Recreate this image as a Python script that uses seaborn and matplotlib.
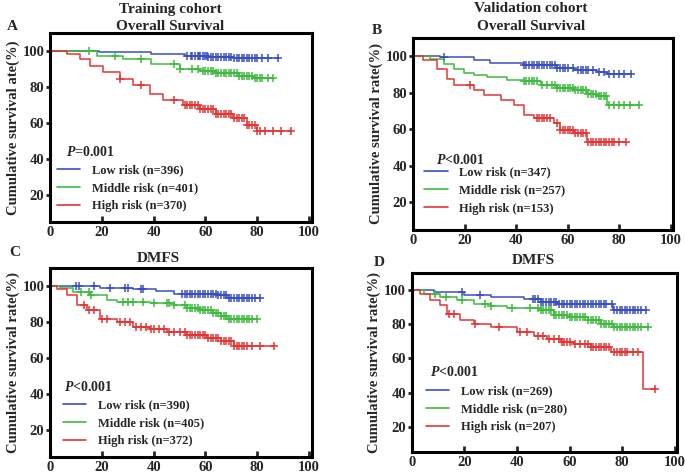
import numpy as np
import pandas as pd
import matplotlib
matplotlib.use('Agg')
import matplotlib.pyplot as plt
import seaborn as sns
from matplotlib.lines import Line2D

# =============================================================================
# Data (time in months, survival in %)
# =============================================================================

# Panel A - training cohort, overall survival
a_low_t = [0, 19, 39, 52, 61, 71, 88]
a_low_s = [100, 99.5, 98, 97, 96.7, 95.8, 95.8]
a_low_c = [53, 54.5, 55, 56, 57, 57.5, 58, 59, 60, 60.5, 61, 62, 63, 64, 65, 66,
           67, 68, 69, 70, 71, 72, 73, 74, 75, 76, 77, 78, 79, 80, 82, 84, 88]
a_mid_t = [0, 6.4, 18, 28, 39, 50, 58, 64, 73, 78.5, 86]
a_mid_s = [100, 100, 97.2, 95.4, 92.7, 90, 89, 87.7, 86.2, 85.1, 85.1]
a_mid_c = [15, 25, 35, 48, 50, 55, 57, 59, 60, 61, 62, 63, 64, 65, 66, 67, 68,
           69, 70, 71, 72, 73, 74, 75, 76, 77, 78, 79, 80, 81, 82, 84, 86]
a_high_t = [0, 6.4, 11.6, 15.4, 20.6, 27, 32, 38.6, 43.8, 51.5, 58, 64, 70.8, 76, 80, 93]
a_high_s = [100, 98, 95.4, 91.7, 88, 84.4, 81, 76, 72.5, 70, 67.9, 65, 62.7, 58.7, 55.4, 55.4]
a_high_c = [27, 35, 48, 52, 53, 54, 55, 56, 57, 58, 59, 60, 61, 62, 63, 64, 65, 66,
            67, 68, 69, 70, 71, 72, 73, 74, 75, 76, 77, 78, 79, 80, 81, 83, 86, 89, 93]

# Panel B - validation cohort, overall survival
b_low_t = [0, 10.6, 23.6, 30, 43, 56, 62.4, 71.5, 75.4, 84.5]
b_low_s = [100, 99.5, 97.8, 96.4, 95, 93.8, 92.7, 91.5, 90.5, 90.5]
b_low_c = [12, 43, 44, 45, 46, 47, 48, 49, 50, 51, 52, 53, 54, 55, 56, 57, 58, 59,
           60, 62, 64, 65, 66, 67, 68, 70, 72, 74, 76, 78, 80, 82, 84.5]
b_mid_t = [0, 6.7, 12, 15.8, 19.7, 23.6, 28.8, 36.5, 43, 49.5, 56, 62.4, 67.6, 71.5, 75.4, 87.7]
b_mid_s = [100, 98.7, 96, 93.3, 91, 89.6, 88.7, 87, 86.4, 84.2, 82.7, 81.5, 79.6, 78.4, 73.3, 73.3]
b_mid_c = [43, 44, 45, 46, 47, 48, 50, 52, 54, 55, 56, 57, 58, 59, 60, 61, 62, 63,
           64, 65, 66, 67, 68, 69, 70, 71, 72, 73, 74, 75, 76, 78, 80, 82, 84, 87.7]
b_high_t = [0, 4, 9.3, 13.2, 15.8, 21, 23.6, 27.5, 34, 39, 43, 47, 52, 54.7, 57, 62.4, 67.6, 82.5]
b_high_s = [100, 97.8, 93.3, 87.8, 84.5, 84.2, 81.5, 78.7, 76, 73.3, 67.8, 66.4, 66,
            63.3, 59.6, 57.8, 53.3, 53.3]
b_high_c = [22, 48, 49, 50, 51, 52, 53, 56, 57, 58, 59, 60, 61, 62, 63, 64, 65, 66,
            67, 68, 69, 70, 71, 72, 73, 74, 75, 76, 77, 78, 80, 82.5]

# Panel C - training cohort, DMFS
c_low_t = [0, 9, 19.4, 32, 41, 48, 64.5, 68.4, 81]
c_low_s = [100, 100, 99.1, 98.2, 97.4, 95.6, 94.7, 93.2, 93.2]
c_low_c = [10, 11, 17, 23, 29, 30, 35, 36, 51, 52, 53, 54, 55, 56, 57, 58, 59, 60,
           61, 62, 63, 64, 65, 66, 67, 68, 69, 70, 71, 72, 73, 74, 75, 76, 77, 78, 79, 81]
c_mid_t = [0, 3.9, 9, 15.5, 22, 26, 38.7, 47.7, 53, 58, 63, 66, 68.4, 80]
c_mid_s = [100, 99, 96.5, 94.7, 92, 91.2, 90.4, 89.5, 87.7, 86.8, 85, 83.3, 81.6, 81.6]
c_mid_c = [12, 15, 16, 28, 30, 32, 36, 40, 45, 46, 48, 52, 53, 54, 55, 56, 57, 58,
           59, 60, 61, 62, 63, 64, 65, 66, 67, 68, 69, 70, 71, 72, 73, 74, 75, 76, 77, 78, 80]
c_high_t = [0, 2.6, 6.5, 10.3, 14.2, 19.4, 25.8, 32, 38.7, 45, 53, 60.6, 66, 71, 86.5]
c_high_s = [100, 98.2, 94.7, 89.5, 86.8, 81.6, 79.8, 77.2, 76.3, 74.6, 72.8, 71, 69.3, 66.7, 66.7]
c_high_c = [13, 15, 17, 20, 22, 27, 29, 31, 33, 35, 37, 39, 40, 42, 44, 46, 48, 50,
            52, 53, 54, 55, 56, 57, 58, 59, 60, 61, 62, 63, 64, 65, 66, 67, 68, 69,
            70, 71, 72, 73, 74, 75, 76, 78, 81, 86.5]

# Panel D - validation cohort, DMFS
d_low_t = [0, 8.3, 19.7, 30, 42.7, 49, 55.4, 74.5, 76.4, 89]
d_low_s = [100, 99, 97, 96, 94.7, 93.1, 92.1, 91.7, 88.2, 88.2]
d_low_c = [19, 26, 46, 47, 48, 49, 50, 51, 52, 53, 54, 55, 56, 57, 58, 59, 60, 61,
           62, 63, 64, 65, 66, 67, 68, 69, 70, 71, 72, 73, 74, 76, 77, 78, 79, 80,
           81, 82, 83, 84, 85, 86, 87, 89]
d_mid_t = [0, 4.5, 10.8, 17.2, 23.6, 30, 36.3, 49, 54, 59.2, 67, 72, 77, 89.8]
d_mid_s = [100, 98, 96, 94, 92.1, 90.7, 89.6, 88.2, 85.2, 84.3, 82.3, 80.3, 78.3, 78.3]
d_mid_c = [9, 13, 19, 28, 30, 38, 45, 48, 49, 50, 51, 52, 53, 54, 55, 56, 57, 58,
           59, 60, 61, 62, 63, 64, 65, 66, 67, 68, 69, 70, 71, 72, 73, 74, 75, 76,
           77, 78, 79, 80, 81, 82, 83, 84, 85, 86, 87, 89.8]
d_high_t = [0, 3.2, 7, 10.8, 13.4, 18.5, 23.6, 30, 40, 46.5, 51.6, 56.7, 61.8, 68,
            75.8, 87.9, 92.4]
d_high_s = [100, 98, 94.1, 91.1, 86.2, 82.3, 80.3, 78.3, 75.4, 73.4, 71.5, 69.5,
            68.5, 66.5, 63.6, 41.9, 41.9]
d_high_c = [14, 16, 24, 33, 41, 44, 48, 50, 52, 54, 56, 57, 58, 59, 60, 62, 64, 66,
            67, 68, 69, 70, 71, 72, 73, 74, 75, 77, 78, 79, 80, 81, 82, 84, 86, 92.4]

risk_names = ['Low risk', 'Middle risk', 'High risk']
a_n = [396, 401, 370]
b_n = [347, 257, 153]
c_n = [390, 405, 372]
d_n = [269, 280, 207]
p_texts = ['=0.001', '<0.001', '<0.001', '<0.001']
y_labels = ['Cumulative survival ate(%)', 'Cumulative survival rate(%)',
            'Cumulative survival rate(%)', 'Cumulative survival rate(%)']
x_ticks = [0, 20, 40, 60, 80, 100]
y_ticks = [20, 40, 60, 80, 100]

colors = ['#3a4fbd', '#3dbb3d', '#e43535']

# =============================================================================
# Plot
# =============================================================================

sns.set_theme(style='white')
plt.rcParams['font.family'] = ['Liberation Serif', 'DejaVu Serif']
plt.rcParams['font.weight'] = 'bold'
plt.rcParams['mathtext.fontset'] = 'custom'
plt.rcParams['mathtext.it'] = 'Liberation Serif:italic:bold'
plt.rcParams['mathtext.rm'] = 'Liberation Serif:bold'

fig = plt.figure(figsize=(6.85, 4.75), dpi=100)

# axes boxes (left, bottom, width, height) in figure fraction
boxes = [[0.073, 0.533, 0.382, 0.398],
         [0.603, 0.516, 0.380, 0.404],
         [0.073, 0.038, 0.382, 0.398],
         [0.601, 0.048, 0.388, 0.377]]
p_pos = [(0.062, 0.37), (0.090, 0.365), (0.055, 0.37), (0.068, 0.447)]
leg_pos = [(0.025, 0.305), (0.042, 0.33), (0.048, 0.305), (0.052, 0.375)]

panels = [
    [(a_low_t, a_low_s, a_low_c), (a_mid_t, a_mid_s, a_mid_c), (a_high_t, a_high_s, a_high_c)],
    [(b_low_t, b_low_s, b_low_c), (b_mid_t, b_mid_s, b_mid_c), (b_high_t, b_high_s, b_high_c)],
    [(c_low_t, c_low_s, c_low_c), (c_mid_t, c_mid_s, c_mid_c), (c_high_t, c_high_s, c_high_c)],
    [(d_low_t, d_low_s, d_low_c), (d_mid_t, d_mid_s, d_mid_c), (d_high_t, d_high_s, d_high_c)],
]
counts = [a_n, b_n, c_n, d_n]

for i, curves in enumerate(panels):
    ax = fig.add_axes(boxes[i])
    for (t, s, cens), col in zip(curves, colors):
        df = pd.DataFrame({'time': t, 'surv': s})
        sns.lineplot(data=df, x='time', y='surv', drawstyle='steps-post',
                     estimator=None, sort=False, color=col, lw=1.1, ax=ax)
        # censor marks sit on the step curve
        idx = np.searchsorted(np.array(t), np.array(cens), side='right') - 1
        cy = np.array(s)[idx]
        ax.plot(cens, cy, ls='none', marker='+', ms=6, mew=1.1, color=col)

    ax.set_xlim(0, 101)
    ax.set_ylim(5, 110)
    ax.set_xticks(x_ticks)
    ax.set_yticks(y_ticks)
    ax.tick_params(axis='x', direction='in', length=4, width=2, labelsize=10.5, pad=3,
                   bottom=True)
    ax.tick_params(axis='y', direction='out', length=3, width=2, labelsize=10.5, pad=1,
                   left=True)
    for lab in ax.get_xticklabels() + ax.get_yticklabels():
        lab.set_fontweight('bold')
    for sp in ax.spines.values():
        sp.set_linewidth(2.2)
        sp.set_color('black')
    ax.set_xlabel('')
    ax.set_ylabel(y_labels[i], fontsize=10.5, fontweight='bold', labelpad=2)

    ax.text(p_pos[i][0], p_pos[i][1], r'$\mathit{P}$' + p_texts[i],
            transform=ax.transAxes, fontsize=10, fontweight='bold', va='center')
    handles = [Line2D([0], [0], color=c, lw=1.2) for c in colors]
    labels = [f'{n} (n={k})' for n, k in zip(risk_names, counts[i])]
    ax.legend(handles, labels, loc='upper left', bbox_to_anchor=leg_pos[i],
              frameon=False, borderpad=0, borderaxespad=0, handlelength=1.9,
              handletextpad=0.9, labelspacing=0.48,
              prop={'family': 'Liberation Serif', 'weight': 'bold', 'size': 9})

# titles and panel letters
fig.text(170 / 685, 1 - 9 / 475, 'Training cohort', ha='center', va='center',
         fontsize=11, fontweight='bold')
fig.text(170 / 685, 1 - 27 / 475, 'Overall Survival', ha='center', va='center',
         fontsize=11, fontweight='bold')
fig.text(531 / 685, 1 - 8 / 475, 'Validation cohort', ha='center', va='center',
         fontsize=11, fontweight='bold')
fig.text(531 / 685, 1 - 27 / 475, 'Overall Survival', ha='center', va='center',
         fontsize=11, fontweight='bold')
fig.text(158 / 685, 1 - 258 / 475, 'DMFS', ha='center', va='center',
         fontsize=11, fontweight='bold')
fig.text(533 / 685, 1 - 260 / 475, 'DMFS', ha='center', va='center',
         fontsize=11, fontweight='bold')
for letter, (px, py) in zip('ABCD', [(12, 27), (377, 30), (15, 252), (379, 262)]):
    fig.text(px / 685, 1 - py / 475, letter, ha='center', va='center',
             fontsize=11, fontweight='bold')

plt.savefig('out.png', dpi=100)
